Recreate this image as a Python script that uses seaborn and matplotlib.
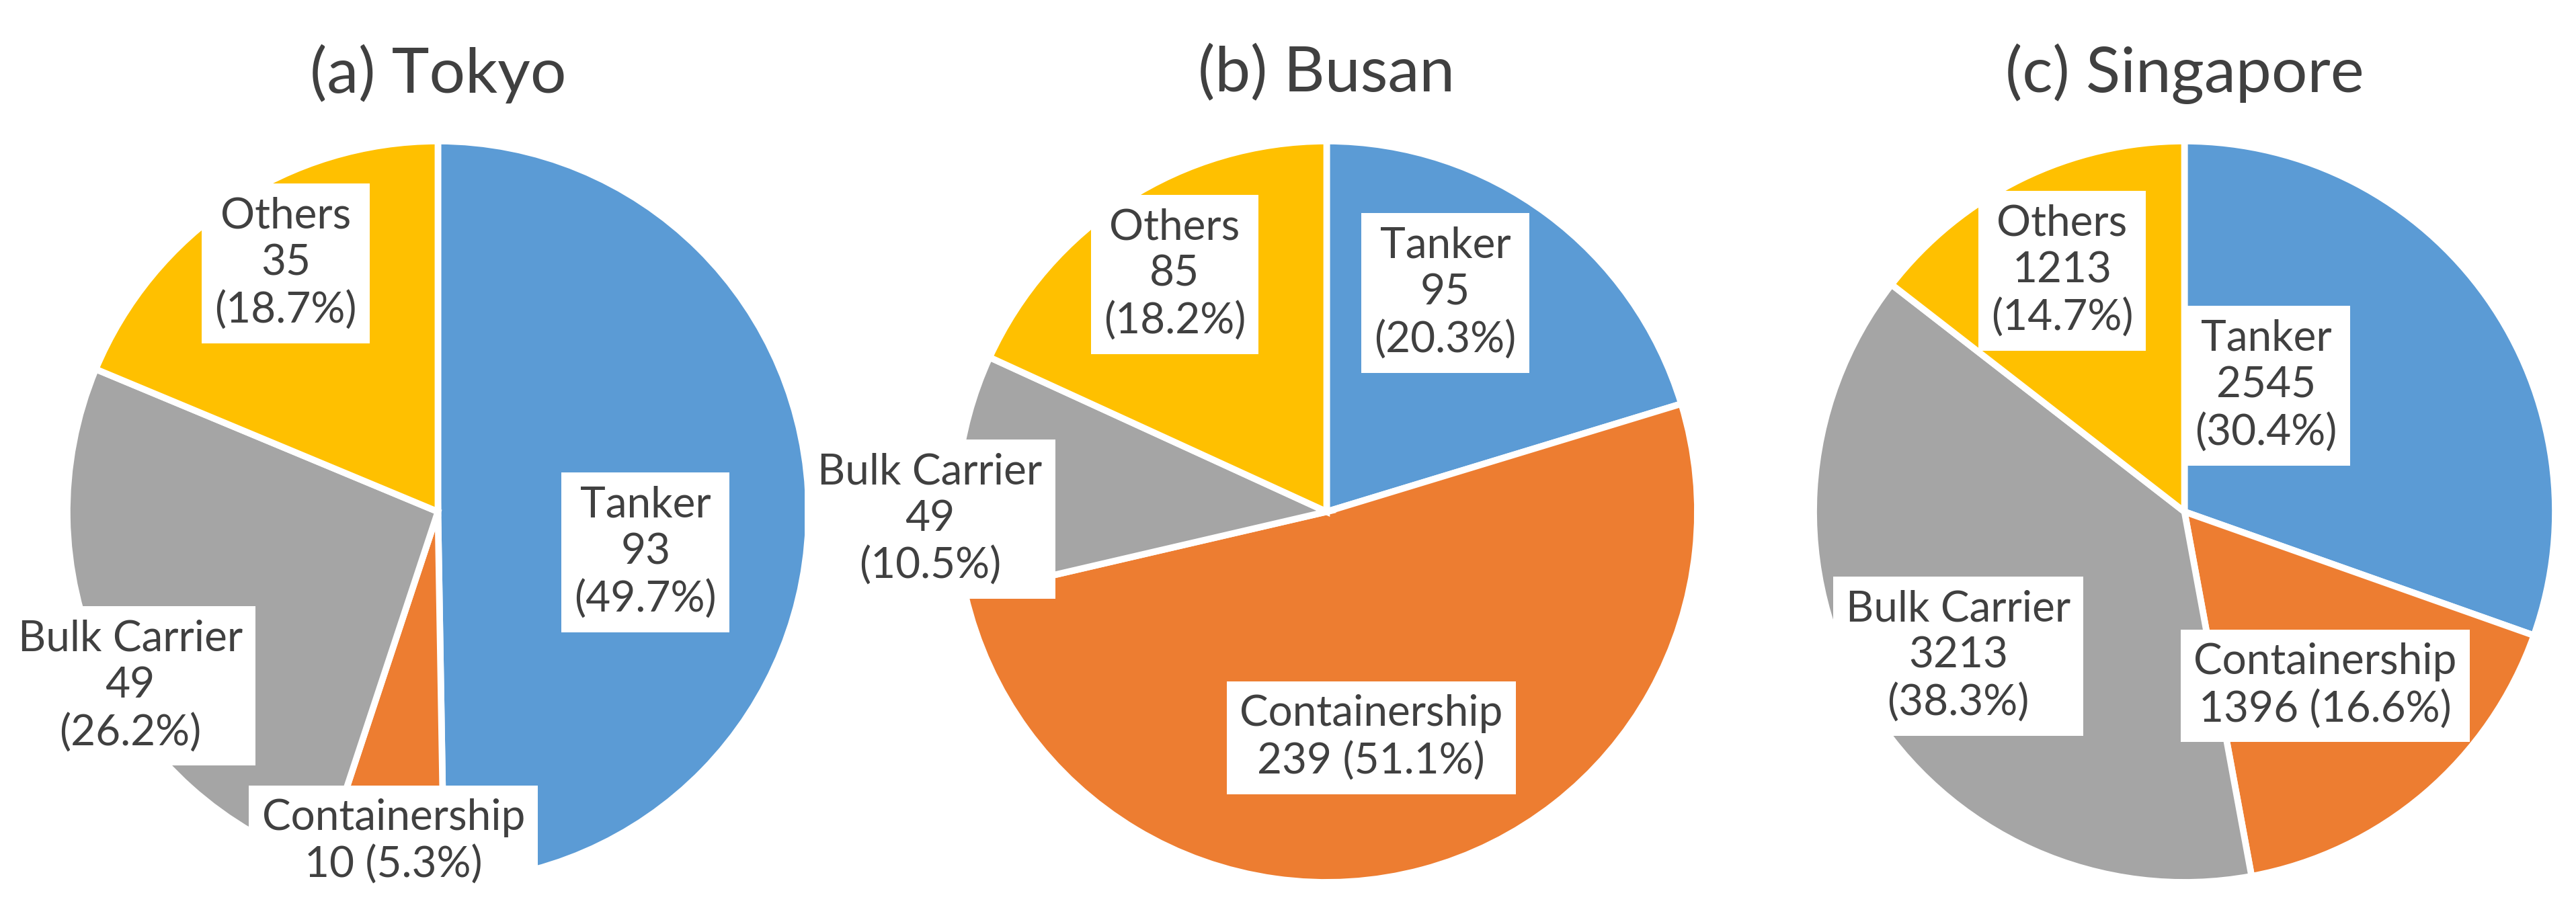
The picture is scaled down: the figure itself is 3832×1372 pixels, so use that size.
"""Vessel type share at three ports, drawn as pie charts."""

import matplotlib

matplotlib.use("Agg")
import matplotlib.pyplot as plt
import seaborn as sns

PORTS = ["(a) Tokyo", "(b) Busan", "(c) Singapore"]
VESSEL_TYPES = ["Tanker", "Containership", "Bulk Carrier", "Others"]
TOKYO_COUNTS = [93, 10, 49, 35]
BUSAN_COUNTS = [95, 239, 49, 85]
SINGAPORE_COUNTS = [2545, 1396, 3213, 1213]
TOKYO_PCT = ["49.7%", "5.3%", "26.2%", "18.7%"]
BUSAN_PCT = ["20.3%", "51.1%", "10.5%", "18.2%"]
SINGAPORE_PCT = ["30.4%", "16.6%", "38.3%", "14.7%"]

COLORS = sns.color_palette(["#5B9BD5", "#ED7D31", "#A5A5A5", "#FFC000"])
TEXT_COLOR = "#404040"

# label placement, in units of pie radius, and line layout per label
LABEL_POS = [
    [(0.56, -0.11), (-0.12, -0.89), (-0.83, -0.47), (-0.41, 0.67)],
    [(0.32, 0.59), (0.12, -0.61), (-1.07, -0.02), (-0.41, 0.64)],
    [(0.22, 0.34), (0.38, -0.47), (-0.61, -0.39), (-0.33, 0.65)],
]
TWO_LINE = [
    [False, True, False, False],
    [False, True, False, False],
    [False, True, False, False],
]
CENTERS_X = [0.170, 0.515, 0.848]

sns.set_theme(style="white")
plt.rcParams["font.family"] = ["Lato", "DejaVu Sans"]

fig = plt.figure(figsize=(38.32, 13.72), dpi=100)
diam_h = 0.82
diam_w = diam_h * 13.72 / 38.32

all_counts = [TOKYO_COUNTS, BUSAN_COUNTS, SINGAPORE_COUNTS]
all_pcts = [TOKYO_PCT, BUSAN_PCT, SINGAPORE_PCT]

for i, port in enumerate(PORTS):
    ax = fig.add_axes([CENTERS_X[i] - diam_w / 2, 0.445 - diam_h / 2, diam_w, diam_h])
    ax.pie(
        all_counts[i],
        colors=COLORS,
        startangle=90,
        counterclock=False,
        radius=1.0,
        wedgeprops={"edgecolor": "white", "linewidth": 7},
    )
    ax.set_xlim(-1.02, 1.02)
    ax.set_ylim(-1.02, 1.02)
    ax.set_aspect("equal")
    for j, name in enumerate(VESSEL_TYPES):
        count, pct = all_counts[i][j], all_pcts[i][j]
        if TWO_LINE[i][j]:
            label = f"{name}\n{count} ({pct})"
        else:
            label = f"{name}\n{count}\n({pct})"
        x, y = LABEL_POS[i][j]
        ax.text(
            x, y, label, ha="center", va="center", fontsize=46,
            color=TEXT_COLOR, linespacing=1.25,
            bbox={"facecolor": "white", "edgecolor": "none", "pad": 14},
        )
    fig.text(CENTERS_X[i], 0.92, port, ha="center", va="center",
             fontsize=68, color=TEXT_COLOR)

fig.savefig("out.png", dpi=100, facecolor="white")
